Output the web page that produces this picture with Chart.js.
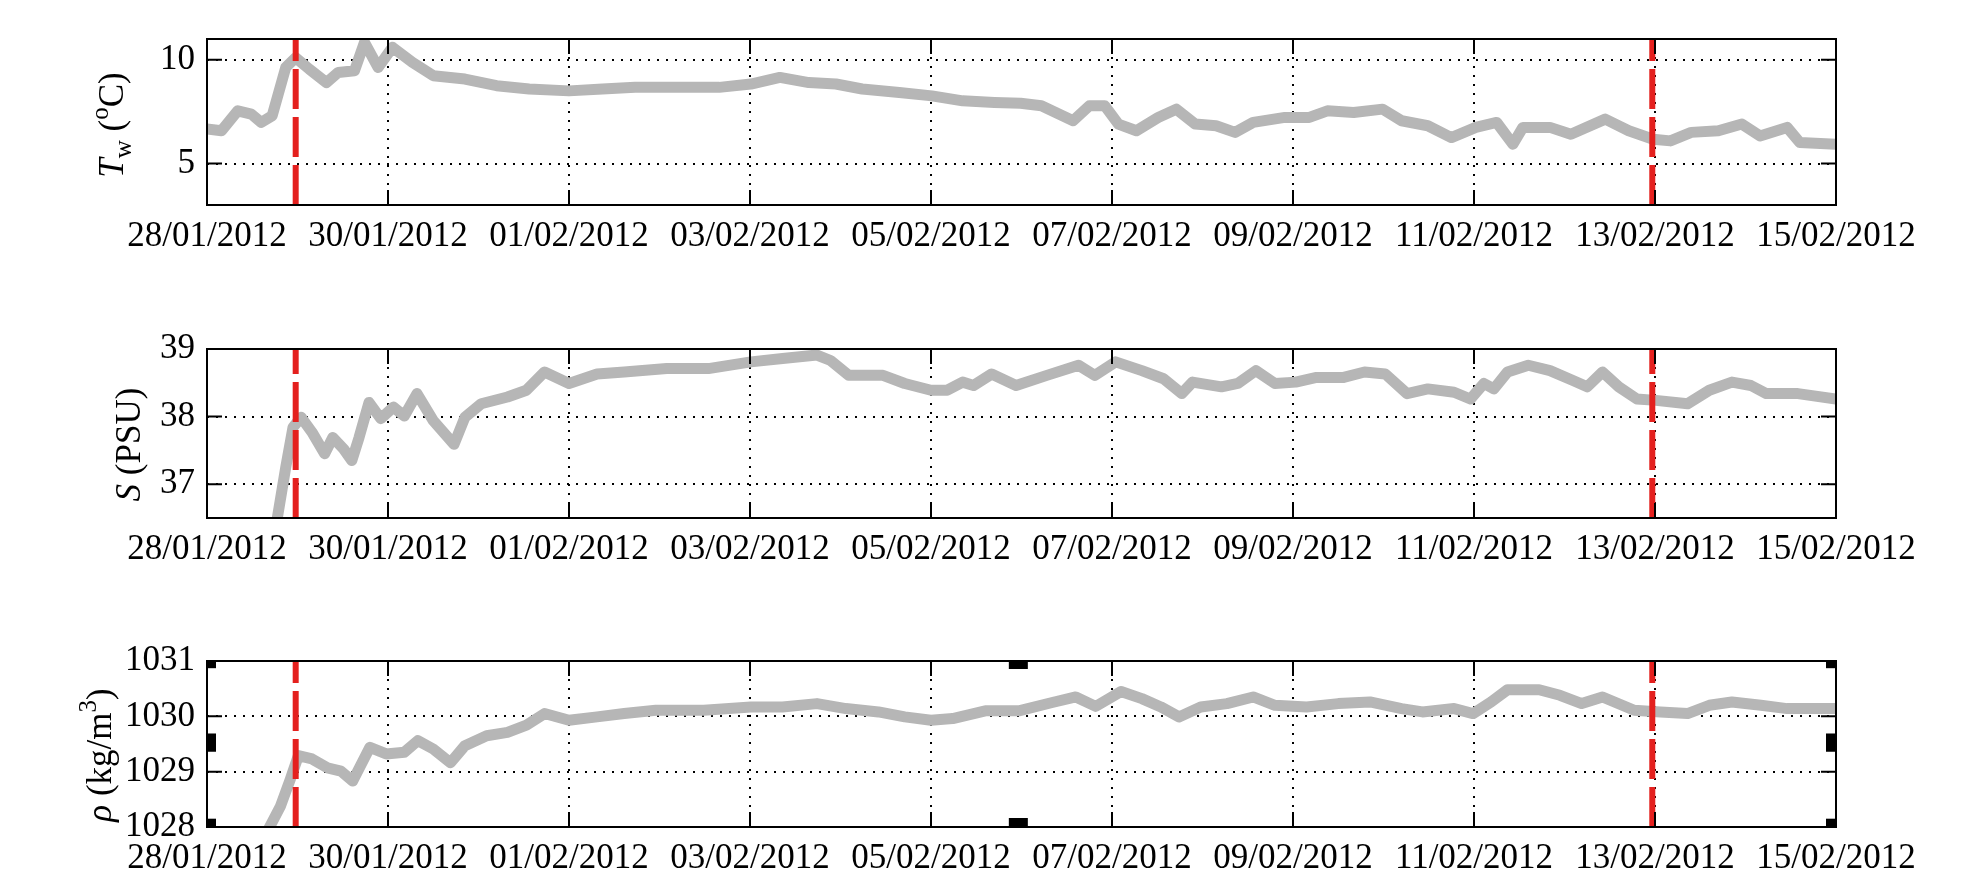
<!DOCTYPE html>
<html>
<head>
<meta charset="utf-8">
<title>Tw, S, rho</title>
<script src="https://cdn.jsdelivr.net/npm/chart.js@4.4.1/dist/chart.umd.min.js"></script>
<style>
    html, body { margin: 0; padding: 0; background: #fff; }
    #wrap { position: relative; width: 1987px; height: 886px; overflow: hidden; }
    .panel { position: absolute; left: 0; width: 1987px; }
</style>
</head>
<body>
<div id="wrap">
    <div class="panel" style="top:0;height:300px"><canvas id="c1"></canvas></div>
    <div class="panel" style="top:300px;height:300px"><canvas id="c2"></canvas></div>
    <div class="panel" style="top:600px;height:286px"><canvas id="c3"></canvas></div>
</div>
<script>
// x axis: days since 28/01/2012 00:00
const xTickDays = [0, 2, 4, 6, 8, 10, 12, 14, 16, 18];
const dateLabels = ["28/01/2012", "30/01/2012", "01/02/2012", "03/02/2012", "05/02/2012",
    "07/02/2012", "09/02/2012", "11/02/2012", "13/02/2012", "15/02/2012"];
const eventDays = [0.98, 15.97];

// water temperature (°C)
const tempDays = [0, 0.16, 0.34, 0.49, 0.60, 0.72, 0.87, 0.98, 1.13, 1.32, 1.45, 1.63, 1.74, 1.89,
    2.05, 2.27, 2.5, 2.85, 3.2, 3.56, 4.0, 4.37, 4.73, 5.19, 5.66, 6.01, 6.33, 6.65, 6.95, 7.24,
    7.65, 8.01, 8.35, 8.7, 8.99, 9.22, 9.57, 9.75, 9.92, 10.07, 10.27, 10.51, 10.71, 10.92, 11.15,
    11.36, 11.56, 11.91, 12.18, 12.38, 12.67, 12.99, 13.2, 13.49, 13.75, 14.02, 14.25, 14.43,
    14.54, 14.84, 15.07, 15.45, 15.71, 15.98, 16.17, 16.4, 16.7, 16.96, 17.16, 17.46, 17.6, 18.0];
const tempVals = [6.66, 6.58, 7.54, 7.38, 6.98, 7.3, 9.63, 10.1, 9.55, 8.9, 9.39, 9.47, 10.84, 9.63,
    10.6, 9.87, 9.23, 9.07, 8.75, 8.59, 8.5, 8.59, 8.67, 8.67, 8.67, 8.83, 9.15, 8.9, 8.83, 8.59,
    8.42, 8.26, 8.02, 7.94, 7.9, 7.78, 7.06, 7.78, 7.78, 6.9, 6.58, 7.22, 7.62, 6.9, 6.82,
    6.5, 6.98, 7.22, 7.22, 7.54, 7.46, 7.62, 7.06, 6.82, 6.25, 6.74, 6.98, 5.93,
    6.74, 6.74, 6.41, 7.14, 6.58, 6.17, 6.09, 6.5, 6.58, 6.9, 6.33, 6.74, 6.01, 5.93];
const tempTicks = [5, 10];

// salinity (PSU)
const salDays = [0.74, 0.87, 0.95, 1.04, 1.16, 1.3, 1.39, 1.51, 1.6, 1.68, 1.79, 1.92, 2.06, 2.18,
    2.32, 2.5, 2.73, 2.85, 3.03, 3.32, 3.53, 3.73, 4.0, 4.31, 4.61, 5.08, 5.54, 6.01, 6.36, 6.74,
    6.89, 7.09, 7.47, 7.71, 8.0, 8.18, 8.35, 8.47, 8.67, 8.94, 9.28, 9.63, 9.81, 10.04, 10.33,
    10.57, 10.77, 10.89, 11.21, 11.39, 11.59, 11.8, 12.03, 12.26, 12.56, 12.79, 13.02, 13.26,
    13.49, 13.78, 13.96, 14.11, 14.22, 14.37, 14.6, 14.84, 15.1, 15.25, 15.42, 15.6, 15.8,
    16.01, 16.36, 16.6, 16.85, 17.06, 17.23, 17.58, 18.0];
const salVals = [36.2, 37.25, 37.84, 37.99, 37.77, 37.45, 37.69, 37.52, 37.35, 37.69, 38.21, 37.97, 38.14, 38.01,
    38.34, 37.94, 37.59, 37.99, 38.19, 38.29, 38.39, 38.66, 38.49, 38.63, 38.66, 38.71, 38.71, 38.81, 38.86, 38.91,
    38.83, 38.61, 38.61, 38.49, 38.39, 38.39, 38.51, 38.46, 38.63, 38.46, 38.61, 38.76, 38.61, 38.81, 38.68,
    38.56, 38.34, 38.51, 38.44, 38.49, 38.68, 38.49, 38.51, 38.58, 38.58, 38.66, 38.63, 38.34,
    38.41, 38.36, 38.26, 38.49, 38.41, 38.66, 38.76, 38.68, 38.53, 38.44, 38.66, 38.44, 38.26,
    38.24, 38.19, 38.39, 38.51, 38.46, 38.34, 38.34, 38.26];
const salTicks = [37, 38, 39];

// density (kg/m3)
const rhoDays = [0.66, 0.81, 0.92, 1.01, 1.16, 1.33, 1.48, 1.61, 1.8, 1.98, 2.18, 2.33, 2.5, 2.69,
    2.85, 3.09, 3.32, 3.53, 3.73, 4.0, 4.31, 4.61, 4.96, 5.49, 6.01, 6.36, 6.74, 7.06, 7.42, 7.71,
    8.0, 8.24, 8.6, 8.97, 9.34, 9.6, 9.82, 10.1, 10.33, 10.54, 10.74, 10.98, 11.27, 11.56, 11.8,
    12.15, 12.5, 12.85, 13.2, 13.43, 13.78, 13.99, 14.19, 14.37, 14.72, 14.95, 15.19, 15.42,
    15.77, 16.06, 16.36, 16.6, 16.85, 17.17, 17.46, 18.0];
const rhoVals = [1027.9, 1028.37, 1028.86, 1029.29, 1029.23, 1029.07, 1029.01, 1028.83, 1029.44, 1029.32, 1029.35, 1029.56, 1029.41, 1029.16,
    1029.47, 1029.65, 1029.71, 1029.84, 1030.05, 1029.93, 1029.99, 1030.05, 1030.11, 1030.11, 1030.17, 1030.17, 1030.23, 1030.14, 1030.08, 1029.99,
    1029.93, 1029.96, 1030.1, 1030.1, 1030.25, 1030.35, 1030.18, 1030.45, 1030.32, 1030.17, 1029.99, 1030.17, 1030.23, 1030.35, 1030.2,
    1030.17, 1030.23, 1030.26, 1030.14, 1030.08, 1030.14, 1030.05, 1030.26, 1030.48, 1030.48, 1030.38, 1030.23, 1030.35,
    1030.11, 1030.08, 1030.05, 1030.2, 1030.26, 1030.2, 1030.14, 1030.14];
const rhoTicks = [1028, 1029, 1030, 1031];

const FONT = "'Liberation Serif', 'Times New Roman', serif";
const FONT_SIZE = 35;
Chart.defaults.font.family = FONT;
Chart.defaults.font.size = FONT_SIZE;
Chart.defaults.color = "#000";

// box with inward ticks, like matlab axes
function framePlugin(marks) {
    return {
        id: "frame",
        afterDatasetsDraw(chart) {
            const { ctx, chartArea: a, scales } = chart;
            ctx.save();
            ctx.strokeStyle = "#000";
            ctx.lineWidth = 2;
            ctx.strokeRect(a.left, a.top, a.right - a.left, a.bottom - a.top);
            ctx.beginPath();
            scales.x.ticks.forEach(t => {
                const px = scales.x.getPixelForValue(t.value);
                ctx.moveTo(px, a.bottom); ctx.lineTo(px, a.bottom - 15);
                ctx.moveTo(px, a.top); ctx.lineTo(px, a.top + 15);
            });
            scales.y.ticks.forEach(t => {
                const py = scales.y.getPixelForValue(t.value);
                ctx.moveTo(a.left, py); ctx.lineTo(a.left + 15, py);
                ctx.moveTo(a.right, py); ctx.lineTo(a.right - 15, py);
            });
            ctx.stroke();

            // stray black marks on the density axes
            ctx.fillStyle = "#000";
            (marks.side || []).forEach(m => {
                const y0 = scales.y.getPixelForValue(m[0]);
                const y1 = scales.y.getPixelForValue(m[1]);
                ctx.fillRect(a.left, y0, 9, y1 - y0);
                ctx.fillRect(a.right - 10, y0, 10, y1 - y0);
            });
            (marks.edge || []).forEach(m => {
                const x0 = scales.x.getPixelForValue(m[0]);
                const x1 = scales.x.getPixelForValue(m[1]);
                ctx.fillRect(x0, a.top, x1 - x0, 8);
                ctx.fillRect(x0, a.bottom - 9, x1 - x0, 9);
            });
            ctx.restore();
        }
    };
}

// rotated y label with sub/superscripts
function titlePlugin(title) {
    return {
        id: "axisTitle",
        afterDraw(chart) {
            const { ctx, chartArea: a } = chart;
            const base = FONT_SIZE;
            const fontFor = p => (p.italic ? "italic " : "") + (p.shift ? Math.round(base * 0.7) : base) + "px " + FONT;
            ctx.save();
            ctx.translate(title.x, (a.top + a.bottom) / 2 + title.dy);
            ctx.rotate(-Math.PI / 2);
            let total = 0;
            title.parts.forEach(p => { ctx.font = fontFor(p); total += ctx.measureText(p.text).width; });
            let x = -total / 2;
            ctx.textBaseline = "middle";
            ctx.fillStyle = "#000";
            title.parts.forEach(p => {
                ctx.font = fontFor(p);
                const dy = p.shift === "sub" ? 10 : (p.shift === "sup" ? -13 : 0);
                ctx.fillText(p.text, x, dy);
                x += ctx.measureText(p.text).width;
            });
            ctx.restore();
        }
    };
}

function makePanel(id, p) {
    const series = {
        data: p.days.map((d, i) => ({ x: d, y: p.vals[i] })),
        borderColor: "rgb(182,182,182)",
        borderWidth: 11,
        borderJoinStyle: "round",
        pointRadius: 0,
        tension: 0,
        clip: 0,
        order: 2
    };
    const events = eventDays.map(d => ({
        data: [{ x: d, y: p.min }, { x: d, y: p.max }],
        borderColor: "rgb(228,32,30)",
        borderWidth: 6,
        borderDash: [40, 8],
        pointRadius: 0,
        clip: 0,
        order: 1
    }));
    const gridOpts = { color: "#000", lineWidth: 2, drawTicks: false, borderDash: [2, 7] };

    return new Chart(document.getElementById(id), {
        type: "line",
        data: { datasets: [series, ...events] },
        options: {
            responsive: true,
            maintainAspectRatio: false,
            animation: false,
            devicePixelRatio: 1,
            layout: { padding: { top: p.padTop, right: 151, left: 0, bottom: 0 } },
            plugins: {
                legend: { display: false },
                tooltip: { enabled: false }
            },
            scales: {
                x: {
                    type: "linear",
                    min: 0,
                    max: 18,
                    afterFit: s => { s.height = p.xHeight; },
                    afterBuildTicks: s => { s.ticks = xTickDays.map(v => ({ value: v })); },
                    ticks: {
                        callback: (v, i) => dateLabels[i],
                        padding: 11,
                        maxRotation: 0,
                        autoSkip: false
                    },
                    grid: gridOpts,
                    border: { display: false, dash: [2, 7] }
                },
                y: {
                    type: "linear",
                    min: p.min,
                    max: p.max,
                    afterFit: s => { s.width = 207; },
                    afterBuildTicks: s => { s.ticks = p.ticks.map(v => ({ value: v })); },
                    ticks: { callback: v => String(v), padding: 12 },
                    grid: gridOpts,
                    border: { display: false, dash: [2, 7] }
                }
            }
        },
        plugins: [framePlugin(p.marks || {}), titlePlugin(p.title)]
    });
}

makePanel("c1", {
    days: tempDays, vals: tempVals, ticks: tempTicks, min: 3, max: 11,
    padTop: 39, xHeight: 95,
    title: { x: 114, dy: 3, parts: [
        { text: "T", italic: true }, { text: "w", shift: "sub" },
        { text: " (" }, { text: "o", shift: "sup" }, { text: "C)" }] }
});

makePanel("c2", {
    days: salDays, vals: salVals, ticks: salTicks, min: 36.5, max: 39,
    padTop: 49, xHeight: 82,
    title: { x: 131, dy: 11, parts: [{ text: "S", italic: true }, { text: " (PSU)" }] }
});

makePanel("c3", {
    days: rhoDays, vals: rhoVals, ticks: rhoTicks, min: 1028, max: 1031,
    padTop: 61, xHeight: 59,
    marks: { side: [[1031, 1030.87], [1029.69, 1029.36], [1028.15, 1028]], edge: [[8.86, 9.07]] },
    title: { x: 102, dy: 11, parts: [
        { text: "ρ", italic: true }, { text: " (kg/m" }, { text: "3", shift: "sup" }, { text: ")" }] }
});
</script>
</body>
</html>
